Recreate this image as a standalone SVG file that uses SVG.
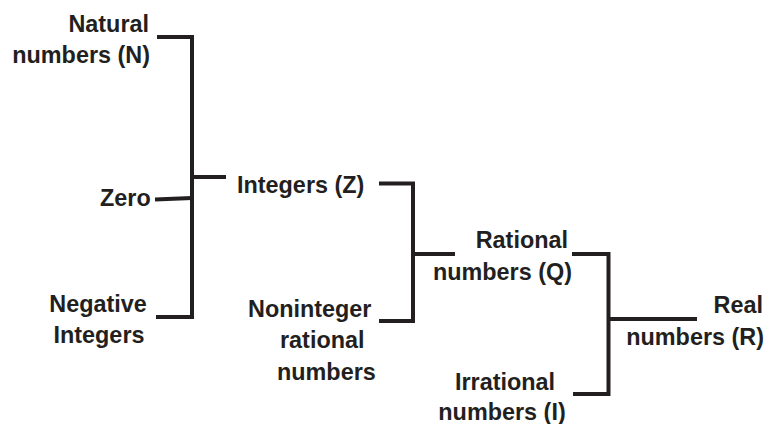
<svg xmlns="http://www.w3.org/2000/svg" width="766" height="424" viewBox="0 0 766 424">
<style>
text{font-family:"Liberation Sans",Arial,sans-serif;font-weight:bold;font-size:23.4px;fill:#231f20}
.r{text-anchor:end}
.m{text-anchor:middle}
.c{fill:none;stroke:#231f20;stroke-width:4;stroke-linejoin:miter;stroke-linecap:butt}
</style>
<rect width="766" height="424" fill="#ffffff"/>
<g id="connectors">
<polyline class="c" points="157,37 192,37 192,317 156,317"/>
<line class="c" x1="155" y1="199.5" x2="192" y2="198"/>
<line class="c" x1="192" y1="177" x2="226" y2="177"/>
<polyline class="c" points="379,183.5 413,183.5 413,321 379,321"/>
<line class="c" x1="413" y1="254" x2="455" y2="254"/>
<polyline class="c" points="572,254 608.5,254 608.5,394 573,394"/>
<line class="c" x1="608.5" y1="319" x2="697" y2="319"/>
</g>
<g id="natural"><text class="r" x="149" y="32">Natural</text><text class="r" x="150" y="63">numbers (N)</text></g>
<g id="zero"><text x="100" y="206">Zero</text></g>
<g id="negative"><text class="m" x="98" y="312">Negative</text><text class="m" x="99" y="343">Integers</text></g>
<g id="integers"><text x="237" y="193">Integers (Z)</text></g>
<g id="noninteger"><text x="248" y="317">Noninteger</text><text x="280" y="348">rational</text><text x="277" y="380">numbers</text></g>
<g id="rational"><text class="r" x="568" y="248">Rational</text><text class="r" x="572" y="280">numbers (Q)</text></g>
<g id="irrational"><text class="m" x="505" y="390">Irrational</text><text class="m" x="502" y="420">numbers (I)</text></g>
<g id="real"><text class="r" x="763" y="313">Real</text><text class="r" x="764" y="345">numbers (R)</text></g>
</svg>
